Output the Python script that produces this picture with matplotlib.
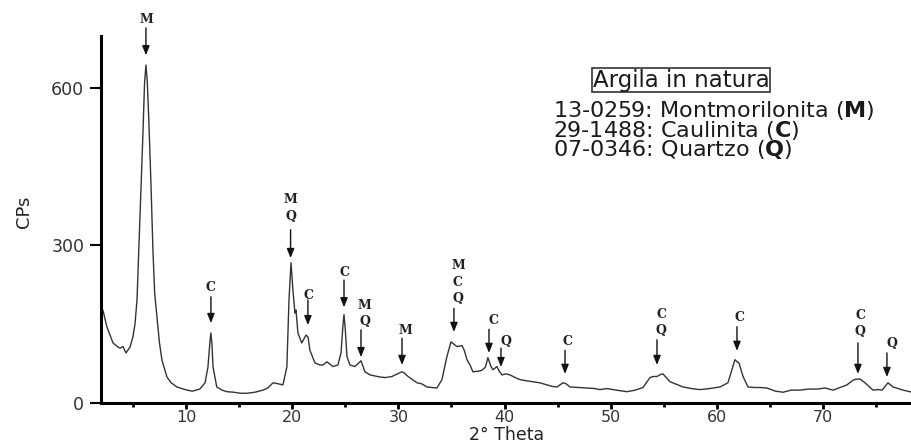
import matplotlib
matplotlib.use("Agg")
import matplotlib.pyplot as plt

# XRD pattern (2theta in degrees, counts per second)
two_theta = [2.00, 2.2, 2.55, 3.13, 3.5, 3.78, 4.07, 4.35, 4.73, 5.00, 5.20, 5.39, 5.67, 5.95,
             6.10, 6.23, 6.35, 6.50, 6.70, 6.89, 7.05, 7.27, 7.50, 7.74, 8.21, 8.6, 9.15, 9.6,
             10.1, 10.6, 11.3, 11.8, 12.07, 12.25, 12.35, 12.45, 12.55, 12.9, 13.4, 13.86, 14.5,
             15.1, 15.74, 16.5, 17.26, 17.7, 18.2, 18.7, 19.13, 19.5, 19.6, 19.7, 19.89, 20.07,
             20.26, 20.36, 20.54, 20.9, 21.3, 21.5, 21.67, 22.14, 22.6, 22.9, 23.27, 23.84, 24.31,
             24.6, 24.79, 24.88, 25.0, 25.16, 25.44, 25.91, 26.38, 26.48, 26.85, 27.33, 28.27,
             28.8, 29.4, 29.9, 30.34, 30.6, 30.91, 31.75, 32.2, 32.69, 33.2, 33.63, 34.10, 34.57,
             34.95, 35.2, 35.52, 35.99, 36.2, 36.46, 36.74, 37.02, 37.5, 37.87, 38.2, 38.43, 38.7,
             38.9, 39.1, 39.28, 39.5, 39.75, 40.1, 40.51, 41.0, 41.45, 42.0, 42.67, 43.3, 43.99,
             44.5, 44.93, 45.50, 45.8, 46.15, 47.0, 47.76, 48.5, 48.98, 49.64, 50.5, 51.52, 52.3,
             53.03, 53.69, 54.0, 54.35, 54.7, 54.91, 55.57, 56.2, 56.79, 57.6, 58.40, 59.3, 60.28,
             61.03, 61.41, 61.69, 61.9, 62.07, 62.45, 62.92, 63.5, 64.05, 64.71, 65.5, 66.22,
             67.0, 67.82, 68.6, 69.42, 70.2, 70.93, 71.6, 72.24, 72.81, 73.1, 73.47, 73.93, 74.69,
             75.2, 75.54, 76.10, 76.57, 77.51, 78.36]
cps = [183, 175, 145, 114, 108, 104, 107, 95, 106, 125, 150, 196, 354, 514,
       610, 644, 615, 540, 420, 291, 210, 164, 115, 81, 49, 38, 30, 27,
       24, 22, 26, 38, 68, 115, 133, 110, 68, 30, 24, 21, 20,
       18, 18, 20, 24, 28, 38, 36, 34, 68, 130, 196, 267, 215,
       171, 177, 133, 114, 129, 125, 100, 76, 72, 72, 78, 69, 72,
       95, 150, 168, 140, 88, 72, 69, 78, 80, 59, 53, 49,
       48, 50, 55, 59, 56, 50, 38, 36, 30, 29, 28, 44, 88,
       116, 112, 107, 109, 100, 82, 72, 59, 60, 62, 68, 86, 70,
       63, 66, 69, 60, 53, 55, 53, 48, 44, 42, 40, 38, 34,
       31, 30, 38, 36, 30, 29, 28, 27, 25, 27, 24, 21, 24,
       29, 48, 50, 50, 54, 55, 40, 35, 30, 27, 25, 27, 30,
       38, 63, 82, 78, 76, 50, 30, 29, 29, 28, 22, 20,
       24, 24, 26, 26, 28, 24, 29, 34, 43, 45, 45, 38, 24,
       25, 24, 38, 30, 24, 20]

# phase identification marks: peak position, phase letters, label / arrow tail / arrow tip heights
peak_pos = [6.23, 12.35, 19.85, 21.48, 24.88, 26.48, 30.34, 35.23, 38.53, 39.66, 45.69,
            54.35, 61.88, 73.27, 76.0]
peak_phase = ["M", "C", "M\nQ", "C", "C", "M\nQ", "M", "M\nC\nQ", "C", "Q", "C",
              "C\nQ", "C", "C\nQ", "Q"]
label_y = [732, 219, 371, 205, 249, 170, 138, 230, 157, 116, 116, 153, 162, 151, 112]
arrow_tail = [715, 202, 330, 196, 234, 139, 123, 180, 140, 104, 100, 120, 145, 114, 95]
arrow_tip = [663, 152, 276, 148, 182, 87, 72, 135, 95, 68, 55, 72, 99, 55, 49]
label_dx = [0, 0, 0, 0.1, 0, 0.35, 0.3, 0.38, 0.38, 0.45, 0.2, 0.38, 0.28, 0.2, 0.45]

legend_title = "Argila in natura"
legend_lines = [r"13-0259: Montmorilonita ($\mathbf{M}$)",
                r"29-1488: Caulinita ($\mathbf{C}$)",
                r"07-0346: Quartzo ($\mathbf{Q}$)"]

W, H = 912, 447
fig = plt.figure(figsize=(W / 100, H / 100), dpi=100)
ax = fig.add_axes([101 / W, 1 - 402.7 / H, 1 - 101 / W, (402.7 - 35.8) / H])

ax.plot(two_theta, cps, color="#333333", lw=1.0)
ax.set_xlim(2, 78.36)
ax.set_ylim(0, 700)

for s in ("top", "right"):
    ax.spines[s].set_visible(False)
for s in ("left", "bottom"):
    ax.spines[s].set_linewidth(2.2)

ax.set_xticks(range(10, 80, 10))
ax.set_xticks(range(5, 80, 10), minor=True)
ax.set_yticks([0, 300, 600])
ax.tick_params(axis="x", which="major", length=4, width=2, pad=1.5, labelsize=11.5,
               labelcolor="#333")
ax.tick_params(axis="x", which="minor", length=3, width=2)
ax.tick_params(axis="y", length=8, width=1.5, pad=4, labelsize=12.5, labelcolor="#333")

ax.set_xlabel("2° Theta", fontsize=12.5, color="#222", va="top")
ax.xaxis.set_label_coords(0.5, -(426.5 - 402.7) / (402.7 - 35.8))
ax.set_ylabel("CPs", fontsize=13, color="#222")
ax.yaxis.set_label_coords(-0.084, 0.52)

for x, txt, ly, yt, yh, dx in zip(peak_pos, peak_phase, label_y, arrow_tail, arrow_tip, label_dx):
    ax.annotate("", xy=(x, yh), xytext=(x, yt), annotation_clip=False,
                arrowprops=dict(arrowstyle="-|>,head_length=0.55,head_width=0.22",
                                color="#111", lw=1.0, mutation_scale=10,
                                shrinkA=0, shrinkB=0))
    ax.text(x + dx, ly, txt, ha="center", va="center", fontsize=9, family="DejaVu Serif",
            fontweight="bold", color="#222", linespacing=1.35, clip_on=False)

fig.text(681 / W, 1 - 80 / H, legend_title, ha="center", va="center", fontsize=16.5,
         color="#1a1a1a",
         bbox=dict(boxstyle="square,pad=0.04", fc="white", ec="#333", lw=1.2))
fig.text(553 / W, 1 - 130 / H, "\n".join(legend_lines), ha="left", va="center",
         fontsize=16, color="#1a1a1a", linespacing=0.8)

fig.savefig("out.png", dpi=100)
